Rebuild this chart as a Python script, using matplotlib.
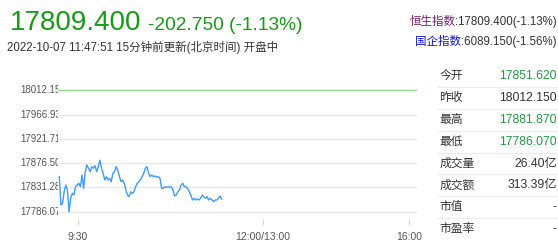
import matplotlib
matplotlib.use("Agg")
import matplotlib.pyplot as plt
from matplotlib.transforms import blended_transform_factory

plt.rcParams['font.family'] = ['Liberation Sans', 'Noto Sans CJK SC', 'DejaVu Sans']

# --- data ---
last_price = "17809.400"
change_text = "-202.750 (-1.13%)"
update_text = "2022-10-07 11:47:51 15分钟前更新(北京时间) 开盘中"
hsi_name, hsi_val = "恒生指数", ":17809.400(-1.13%)"
hscei_name, hscei_val = "国企指数", ":6089.150(-1.56%)"

prev_close = 18012.15
y_grid = [18012.150, 17966.930, 17921.710, 17876.500, 17831.280, 17786.070]
x_tick_labels = ["9:30", "12:00/13:00", "16:00"]

prices = [
    17851.6, 17798.6, 17801.7, 17823.3, 17835.8, 17826.5, 17786.1, 17811.1, 17820.4, 17817.2,
    17832.6, 17835.8, 17839.0, 17832.6, 17854.4, 17829.7, 17860.6, 17873.1, 17866.9, 17860.6,
    17869.9, 17866.9, 17871.8, 17860.6, 17869.9, 17881.9, 17866.9, 17857.6,
    17845.1, 17851.3, 17845.1, 17848.3, 17842.0, 17857.6, 17860.6, 17869.9, 17863.8, 17851.3,
    17842.0, 17845.1, 17839.0, 17826.5, 17817.2, 17814.0, 17823.3, 17820.4, 17823.3, 17832.6,
    17839.0, 17842.0, 17845.1, 17851.3, 17857.6, 17866.9, 17869.9, 17857.6, 17851.3, 17854.4,
    17851.3, 17852.6, 17850.2, 17851.3, 17848.3, 17829.7, 17829.7, 17832.6, 17831.5, 17832.6,
    17831.5, 17832.6, 17826.5, 17815.3, 17817.2, 17823.3, 17826.5, 17835.8, 17839.0, 17832.6,
    17832.6, 17829.7, 17823.3, 17817.2, 17807.9, 17811.1, 17807.9, 17809.8, 17807.9, 17811.1,
    17817.2, 17814.0, 17811.1, 17814.0, 17807.9, 17811.1, 17807.9, 17804.7, 17807.9, 17807.9,
    17811.1, 17815.3, 17809.4,
]

table_labels = ["今开", "昨收", "最高", "最低", "成交量", "成交额", "市值", "市盈率"]
table_values = ["17851.620", "18012.150", "17881.870", "17786.070", "26.40亿", "313.39亿", "-", "-"]
table_colors = ["#1f9d43", "#333333", "#1f9d43", "#1f9d43", "#333333", "#333333", "#333333", "#333333"]

W, H = 558, 250
fig = plt.figure(figsize=(W / 100, H / 100), dpi=100)

# --- header ---
green = "#159b15"
t1 = fig.text(10 / W, 1 - 30 / H, last_price, fontsize=20, color=green, va="baseline")
fig.canvas.draw()
r = fig.canvas.get_renderer()
bb = t1.get_window_extent(r)
fig.text((bb.x1 + 7) / W, 1 - 30 / H, change_text, fontsize=13.8, color=green, va="baseline")
fig.text(7 / W, 1 - 51 / H, update_text, fontsize=8.3, color="#333333", va="baseline")

for y, name, val, c in [(25, hsi_name, hsi_val, "#7d1a6e"), (45, hscei_name, hscei_val, "#1010e0")]:
    tv = fig.text(557 / W, 1 - y / H, val, fontsize=8.3, color="#333333", ha="right", va="baseline")
    fig.canvas.draw()
    b = tv.get_window_extent(fig.canvas.get_renderer())
    fig.text(b.x0 / W, 1 - y / H, name, fontsize=8.3, color=c, ha="right", va="baseline")

# --- intraday chart ---
ax = fig.add_axes([58 / W, 1 - 219 / H, (417 - 58) / W, (219 - 85) / H])
ax.set_facecolor("white")
ax.set_zorder(1)
for s in ax.spines.values():
    s.set_visible(False)
ax.set_ylim(17772.5, 18022.0)
ax.set_xlim(-0.8, 220.3)
for v in y_grid:
    ax.axhline(v, color="#e8e8e8", lw=1, zorder=1)
ax.axhline(prev_close, color="#99d699", lw=1, zorder=2)
ax.plot(range(len(prices)), prices, color="#3d9cff", lw=1, zorder=3)

ax.set_yticks([])
ax.set_xticks([11.5, 125.2, 215.3])
ax.set_xticklabels(x_tick_labels, fontsize=7.5, color="#555555")
ax.tick_params(axis="x", length=4, color="#d8d8d8", pad=5)

trans = blended_transform_factory(fig.transFigure, ax.transData)
for v in y_grid:
    fig.text(20 / W, v, f"{v:.3f}", transform=trans, fontsize=7, color="#555555",
             va="center", ha="left", zorder=-1)

# --- quote table ---
tax = fig.add_axes([438 / W, 0, (W - 438) / W, 1 - 65 / H])
tax.set_xlim(0, 1)
tax.set_ylim(len(table_labels) - 0.5 + 0.45, -0.5)
tax.axis("off")
for i, (lab, val, col) in enumerate(zip(table_labels, table_values, table_colors)):
    tax.text(0.01, i, lab, fontsize=8.5, color="#333333", va="center", ha="left")
    tax.text(0.99, i, val, fontsize=8.8, color=col, va="center", ha="right")
    if i < len(table_labels) - 1:
        tax.axhline(i + 0.5, color="#ececec", lw=0.8)

fig.savefig("out.png", dpi=100)
